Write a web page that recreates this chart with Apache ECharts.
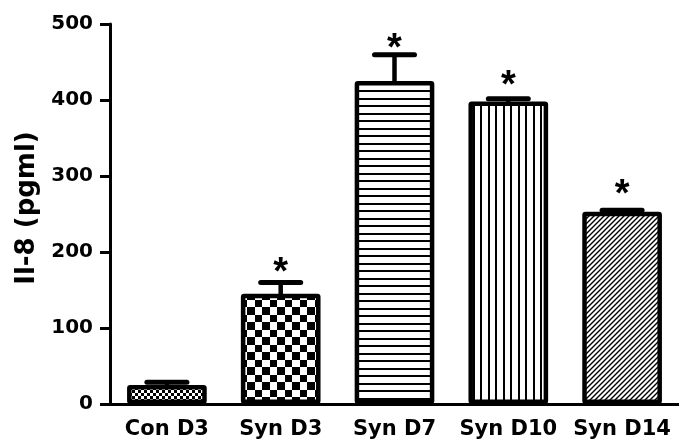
<!DOCTYPE html>
<html>
<head>
<meta charset="utf-8">
<script src="https://cdn.jsdelivr.net/npm/echarts@6/dist/echarts.min.js"></script>
<style>
  html, body { margin: 0; padding: 0; background: #fff; }
  #chart { width: 679px; height: 448px; }
</style>
</head>
<body>
<div id="chart"></div>
<script>
// IL-8 concentration per group
const categories = ['Con D3', 'Syn D3', 'Syn D7', 'Syn D10', 'Syn D14'];
const means = [25, 145, 425, 398, 253];
const errors = [3.5, 15, 34.5, 3.5, 2];
// where the significance asterisks sit (value units), none for the control
const starValues = [null, 185, 479, 431, 288];
const yTicks = { min: 0, max: 500, step: 100 };
const yTitle = 'Il-8 (pgml)';

const FONT = 'DejaVu Sans';

// small repeating fill tiles for the bars
function tile(w, h, draw) {
  const c = document.createElement('canvas');
  c.width = w; c.height = h;
  const ctx = c.getContext('2d');
  ctx.fillStyle = '#fff';
  ctx.fillRect(0, 0, w, h);
  ctx.fillStyle = '#000';
  ctx.strokeStyle = '#000';
  draw(ctx, w, h);
  return { image: c, repeat: 'repeat' };
}
const fills = [
  // fine checker
  tile(6, 6, (ctx) => { ctx.fillRect(0, 0, 3, 3); ctx.fillRect(3, 3, 3, 3); }),
  // coarse checker
  tile(15, 15, (ctx) => { ctx.fillRect(0, 0, 7, 7); ctx.fillRect(7, 7, 8, 8); }),
  // horizontal lines
  tile(15, 15, (ctx) => { ctx.fillRect(0, 0, 15, 2); ctx.fillRect(0, 8, 15, 2); }),
  // vertical lines
  tile(15, 15, (ctx) => { ctx.fillRect(0, 0, 2, 15); ctx.fillRect(8, 0, 2, 15); }),
  // diagonal hatching
  tile(5, 5, (ctx) => {
    ctx.lineWidth = 1.4;
    ctx.beginPath();
    ctx.moveTo(-1, 6); ctx.lineTo(6, -1);
    ctx.moveTo(-1, 1); ctx.lineTo(1, -1);
    ctx.moveTo(4, 6); ctx.lineTo(6, 4);
    ctx.stroke();
  })
];

const chart = echarts.init(document.getElementById('chart'), null, { renderer: 'canvas' });

chart.setOption({
  backgroundColor: '#fff',
  animation: false,
  grid: { left: 110, right: -4, top: 24, bottom: 44, containLabel: false },
  xAxis: {
    type: 'category',
    data: categories,
    axisLine: { lineStyle: { color: '#000', width: 3 } },
    axisTick: { alignWithLabel: true, length: 10, lineStyle: { color: '#000', width: 3 } },
    axisLabel: { interval: 0, hideOverlap: false, color: '#000', fontFamily: FONT, fontWeight: 'bold', fontSize: 21, margin: 15 },
    splitLine: { show: false }
  },
  yAxis: {
    type: 'value',
    min: yTicks.min, max: yTicks.max, interval: yTicks.step,
    name: yTitle,
    nameLocation: 'middle',
    nameGap: 70,
    nameTextStyle: { color: '#000', fontFamily: FONT, fontWeight: 'bold', fontSize: 26, padding: [0, 0, 0, 12] },
    axisLine: { show: true, lineStyle: { color: '#000', width: 3 } },
    axisTick: { show: true, length: 10, lineStyle: { color: '#000', width: 3 } },
    axisLabel: { color: '#000', fontFamily: FONT, fontWeight: 'bold', fontSize: 20, margin: 17 },
    splitLine: { show: false }
  },
  series: [
    {
      type: 'bar',
      barWidth: '70%',
      data: means.map((v, i) => ({ value: v, itemStyle: { color: fills[i] } })),
      itemStyle: { borderColor: '#000', borderWidth: 4.5, borderRadius: 1, borderJoin: 'round' },
      z: 2
    },
    {
      // SEM whiskers: stem from bar top, capped
      type: 'custom',
      z: 3,
      data: means.map((v, i) => [i, v, v + errors[i]]),
      renderItem: (params, api) => {
        const base = api.coord([api.value(0), api.value(1)]);
        const top = api.coord([api.value(0), api.value(2)]);
        const half = 20;
        return {
          type: 'group',
          children: [
            { type: 'line', shape: { x1: base[0], y1: base[1] + 2, x2: top[0], y2: top[1] },
              style: { stroke: '#000', lineWidth: 4.5 } },
            { type: 'line', shape: { x1: top[0] - half, y1: top[1], x2: top[0] + half, y2: top[1] },
              style: { stroke: '#000', lineWidth: 5, lineCap: 'round' } }
          ]
        };
      }
    },
    {
      // significance asterisks
      type: 'custom',
      z: 4,
      data: starValues.map((v, i) => [i, v]).filter((d) => d[1] !== null),
      renderItem: (params, api) => {
        const p = api.coord([api.value(0), api.value(1)]);
        return {
          type: 'text',
          // the asterisk glyph sits high in its box; lift the box so the glyph centres on the point
          x: p[0], y: p[1] - 9,
          style: {
            text: '*', fill: '#000',
            font: 'bold 38px "Liberation Sans"',
            textAlign: 'center', textVerticalAlign: 'top'
          }
        };
      }
    }
  ]
});
</script>
</body>
</html>
